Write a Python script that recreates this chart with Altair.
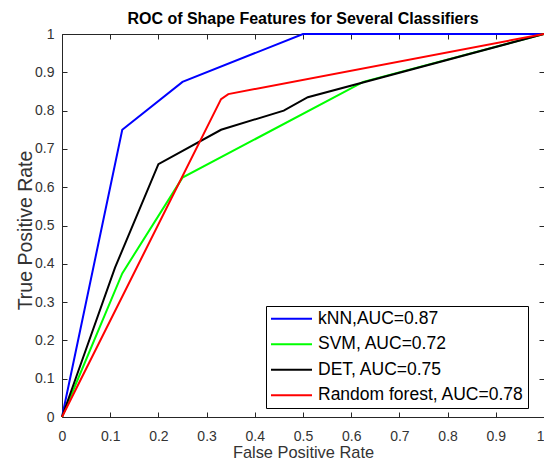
import altair as alt
import pandas as pd

# ---- data ----
series_names = ["kNN,AUC=0.87", "SVM, AUC=0.72", "DET, AUC=0.75", "Random forest, AUC=0.78"]
series_colors = ["#0000ff", "#00ff00", "#000000", "#ff0000"]

knn_fpr = [0.0, 0.125, 0.25, 0.5, 1.0]
knn_tpr = [0.0, 0.75, 0.875, 1.0, 1.0]
svm_fpr = [0.0, 0.125, 0.25, 0.625, 1.0]
svm_tpr = [0.0, 0.375, 0.625, 0.875, 1.0]
det_fpr = [0.0, 0.11, 0.2, 0.33, 0.46, 0.51, 1.0]
det_tpr = [0.0, 0.39, 0.66, 0.75, 0.80, 0.835, 1.0]
rf_fpr = [0.0, 0.33, 0.345, 1.0]
rf_tpr = [0.0, 0.83, 0.843, 1.0]

tick_values = [0, 0.1, 0.2, 0.3, 0.4, 0.5, 0.6, 0.7, 0.8, 0.9, 1]

rows = []
for name, xs, ys in zip(series_names,
                        [knn_fpr, svm_fpr, det_fpr, rf_fpr],
                        [knn_tpr, svm_tpr, det_tpr, rf_tpr]):
    for i, (xv, yv) in enumerate(zip(xs, ys)):
        rows.append({"series": name, "fpr": xv, "tpr": yv, "idx": i})
df = pd.DataFrame(rows)

FONT = "Liberation Sans"
AX = "#262626"

x_scale = alt.Scale(domain=[0, 1], nice=False, zero=False)
y_scale = alt.Scale(domain=[0, 1], nice=False, zero=False)

lines = alt.Chart(df).mark_line(strokeWidth=2, clip=False).encode(
    x=alt.X("fpr:Q", scale=x_scale,
            axis=alt.Axis(orient="bottom", values=tick_values, format="~g",
                          offset=-5, tickSize=5, domain=False, grid=False,
                          labelPadding=12, labelFontSize=14, labelColor="#333333",
                          labelFont=FONT, tickColor=AX, labelFlush=False,
                          labelAlign=alt.ExprRef("datum.value == 1 ? 'right' : 'center'"),
                          title="False Positive Rate", titleFont=FONT,
                          titleFontSize=16.4, titleFontWeight="normal",
                          titleColor="#333333", titleY=45,
                          titleBaseline="alphabetic")),
    y=alt.Y("tpr:Q", scale=y_scale,
            axis=alt.Axis(orient="left", values=tick_values, format="~g",
                          offset=-5, tickSize=5, domain=False, grid=False,
                          labelPadding=8, labelFontSize=14, labelColor="#333333",
                          labelFont=FONT, tickColor=AX, labelFlush=False,
                          title="True Positive Rate", titleFont=FONT,
                          titleFontSize=19.5, titleFontWeight="normal",
                          titleColor="#333333", titleX=-36, titleY=196,
                          titleAngle=270, titleAlign="center",
                          titleBaseline="alphabetic")),
    color=alt.Color("series:N", title=None,
                    scale=alt.Scale(domain=series_names, range=series_colors),
                    legend=alt.Legend(orient="none", legendX=204, legendY=272,
                                      strokeColor="#000000", fillColor="#ffffff",
                                      padding=4, symbolType="stroke",
                                      symbolSize=1681, symbolStrokeWidth=2,
                                      clipHeight=17.5, rowPadding=6.5,
                                      labelFont=FONT, labelFontSize=17.5,
                                      labelColor="#000000", labelOffset=5,
                                      labelLimit=400)),
    order=alt.Order("idx:Q"),
)

frame_axes = alt.Chart(df).mark_line(opacity=0).encode(
    x=alt.X("fpr:Q", scale=x_scale,
            axis=alt.Axis(orient="top", values=tick_values, offset=-5, tickSize=5,
                          domain=False, grid=False, labels=False, tickColor=AX,
                          title="")),
    y=alt.Y("tpr:Q", scale=y_scale,
            axis=alt.Axis(orient="right", values=tick_values, offset=-5, tickSize=5,
                          domain=False, grid=False, labels=False, tickColor=AX,
                          title="")),
    detail="series:N",
)

chart = alt.layer(lines, frame_axes).resolve_axis(
    x="independent", y="independent"
).properties(
    width=482, height=383,
    autosize=alt.AutoSizeParams(type="none"),
    padding={"left": 54, "top": 26, "right": 0, "bottom": 43},
    title=alt.TitleParams("ROC of Shape Features for Several Classifiers",
                          font=FONT, fontSize=16, fontWeight="bold",
                          color="#000000", anchor="middle", frame="group",
                          baseline="alphabetic", offset=8.5, dy=21),
).configure_view(stroke=AX, strokeWidth=1)

chart.save("out.html", embed_options={"renderer": "svg", "actions": False})
